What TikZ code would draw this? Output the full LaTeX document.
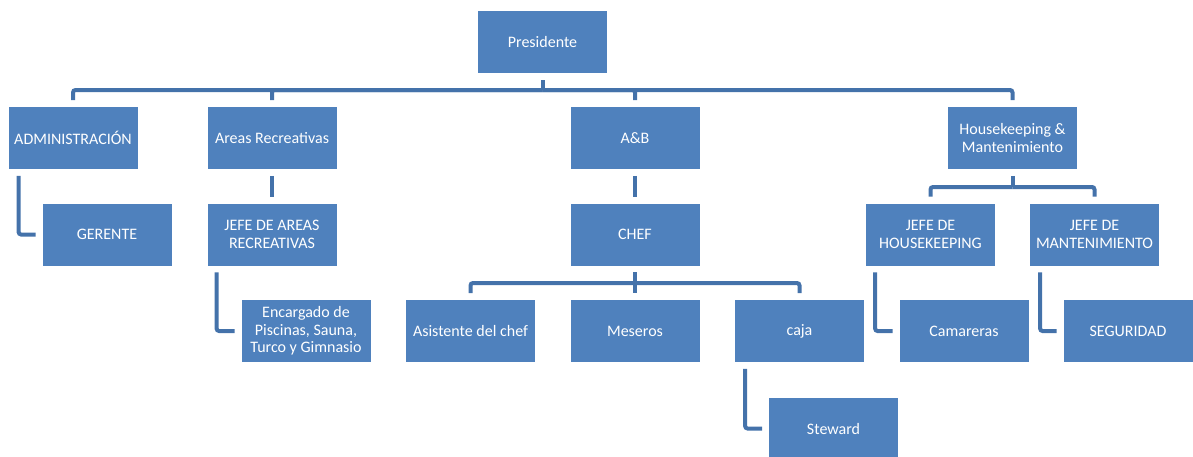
\documentclass[tikz,border=0pt]{standalone}
\usepackage{fontspec}
\setmainfont{Carlito}
\definecolor{boxblue}{RGB}{79,129,189}
\definecolor{lineblue}{RGB}{68,114,170}
\begin{document}
\begin{tikzpicture}[
        x=1pt, y=-1pt,
        box/.style={rectangle, draw=white, line width=0.8pt, fill=boxblue, text=white, minimum width=130pt, minimum height=63pt, align=center, font=\fontsize{16}{17.7}\selectfont, inner sep=2pt},
        conn/.style={draw=lineblue, line width=4pt, rounded corners=2.5pt, shorten <=6pt, shorten >=6pt}
    ]
        \useasboundingbox (0,0) rectangle (1193,456);

        % Top level
        \node[box] (pres) at (542.5,42) {Presidente};

        % Areas
        \node[box] (admin) at (73,138) {ADMINISTRACIÓN};
        \node[box] (recr) at (272,138) {Areas Recreativas};
        \node[box] (ab) at (635,138) {A\&B};
        \node[box] (hk) at (1012.5,138) {Housekeeping \&\\Mantenimiento};

        % Jefes
        \node[box] (gerente) at (107,234.5) {GERENTE};
        \node[box] (jefear) at (272,234.5) {JEFE DE AREAS\\RECREATIVAS};
        \node[box] (chef) at (635,234.5) {CHEF};
        \node[box] (jefehk) at (930.5,234.5) {JEFE DE\\HOUSEKEEPING};
        \node[box] (jefemant) at (1094.5,234.5) {JEFE DE\\MANTENIMIENTO};

        % Personal
        \node[box] (encargado) at (306,331) {Encargado de\\Piscinas, Sauna,\\Turco y Gimnasio};
        \node[box] (asist) at (470.5,331) {Asistente del chef};
        \node[box] (meseros) at (635,331) {Meseros};
        \node[box] (caja) at (799.5,331) {caja};
        \node[box] (camareras) at (964,331) {Camareras};
        \node[box] (seguridad) at (1128,331) {SEGURIDAD};
        \node[box] (steward) at (833.5,428.5) {Steward};

        % Bars
        \coordinate (topbar) at (542.5,90);
        \coordinate (chefbar) at (635,283);
        \coordinate (hkbar) at (1012.5,187);

        % Presidente to areas
        \draw[conn, shorten <=0pt] (topbar) -- (pres.south);
        \draw[conn, shorten <=0pt] (topbar) -| (admin.north);
        \draw[conn, shorten <=0pt] (topbar) -| (recr.north);
        \draw[conn, shorten <=0pt] (topbar) -| (ab.north);
        \draw[conn, shorten <=0pt] (topbar) -| (hk.north);

        % Straight links
        \draw[conn] (recr) -- (jefear);
        \draw[conn] (ab) -- (chef);

        % Elbows
        \draw[conn] ([xshift=11pt]admin.south west) |- (gerente.west);
        \draw[conn] ([xshift=10pt]jefear.south west) |- (encargado.west);
        \draw[conn] ([xshift=11pt]caja.south west) |- (steward.west);
        \draw[conn] ([xshift=10pt]jefehk.south west) |- (camareras.west);
        \draw[conn] ([xshift=11pt]jefemant.south west) |- (seguridad.west);

        % CHEF to staff
        \draw[conn, shorten >=0pt] (chef) -- (chefbar);
        \draw[conn, shorten <=0pt] (chefbar) -| (asist.north);
        \draw[conn, shorten <=0pt] (chefbar) -- (meseros.north);
        \draw[conn, shorten <=0pt] (chefbar) -| (caja.north);

        % Housekeeping to jefes
        \draw[conn, shorten >=0pt] (hk) -- (hkbar);
        \draw[conn, shorten <=0pt] (hkbar) -| (jefehk.north);
        \draw[conn, shorten <=0pt] (hkbar) -| (jefemant.north);

    \end{tikzpicture}
\end{document}
